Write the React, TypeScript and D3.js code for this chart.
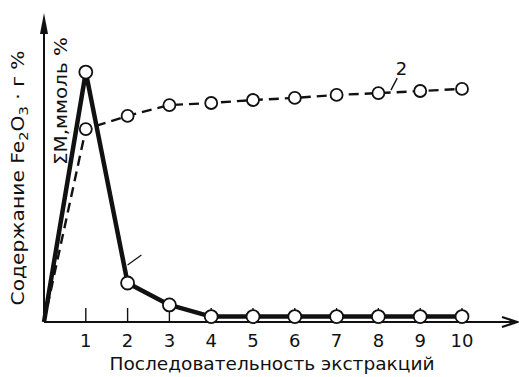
import React from "react";
import * as d3 from "d3";

const extractions = [0, 1, 2, 3, 4, 5, 6, 7, 8, 9, 10];
const fe2o3 = [0, 83.3, 13, 5.7, 1.8, 1.8, 1.8, 1.8, 1.8, 1.8, 1.8];
const sumM = [0, 64.3, 68.7, 72.3, 73, 74, 74.7, 75.7, 76.3, 77, 77.7];
const tickLabels = ["1", "2", "3", "4", "5", "6", "7", "8", "9", "10"];
const xTitle = "Последовательность экстракций";
const yTitle = "Содержание";
const yTitle2 = "ΣМ,ммоль %";

const W = 519;
const H = 377;

export default function App() {
  const x = d3.scaleLinear().domain([0, 10]).range([44, 462]);
  const y = d3.scaleLinear().domain([0, 100]).range([322, 22]);
  const line = d3
    .line<number>()
    .x((_, i) => x(extractions[i]))
    .y((d) => y(d));
  const x0 = x(0);
  const y0 = y(0);
  const font = "DejaVu Sans, sans-serif";
  const ink = "#111";
  return (
    <svg
      width={W}
      height={H}
      style={{ position: "absolute", left: 0, top: 0, background: "#fff" }}
      fontFamily={font}
    >
      <rect x={0} y={0} width={W} height={H} fill="#fff" />
      {/* axes */}
      <line x1={x0} y1={y0} x2={x0} y2={y(100) - 4} stroke={ink} strokeWidth={2} />
      <path
        d={`M${x0},${y(100) - 9} L${x0 - 4},${y(100) + 12} L${x0 + 4},${y(100) + 12} Z`}
        fill={ink}
      />
      <line x1={x0} y1={y0} x2={516} y2={y0} stroke={ink} strokeWidth={2} />
      <path
        d={`M${502},${y0 - 5} L${517},${y0} L${502},${y0 + 5}`}
        fill="none"
        stroke={ink}
        strokeWidth={2.2}
      />
      {/* ticks */}
      {tickLabels.map((t, i) => (
        <g key={t}>
          <line
            x1={x(i + 1)}
            x2={x(i + 1)}
            y1={y0}
            y2={y0 - 14}
            stroke={ink}
            strokeWidth={1.4}
          />
          <text
            x={x(i + 1)}
            y={y0 + 25}
            fontSize={18}
            textAnchor="middle"
            fill={ink}
          >
            {t}
          </text>
        </g>
      ))}
      {/* series lines */}
      <path
        d={line(sumM) || ""}
        fill="none"
        stroke={ink}
        strokeWidth={2.4}
        strokeDasharray="10 6"
      />
      <path
        d={line(fe2o3) || ""}
        fill="none"
        stroke={ink}
        strokeWidth={4.5}
        strokeLinejoin="round"
      />
      {sumM.slice(1).map((v, i) => (
        <circle
          key={"m" + i}
          cx={x(extractions[i + 1])}
          cy={y(v)}
          r={6}
          fill="#fff"
          stroke={ink}
          strokeWidth={1.8}
        />
      ))}
      {fe2o3.slice(1).map((v, i) => (
        <circle
          key={"f" + i}
          cx={x(extractions[i + 1])}
          cy={y(v)}
          r={6.5}
          fill="#fff"
          stroke={ink}
          strokeWidth={1.8}
        />
      ))}
      {/* annotations */}
      <line x1={x(2.0)} y1={y(19)} x2={x(2.33)} y2={y(22.3)} stroke={ink} strokeWidth={1.2} />
      <line x1={x(8.3)} y1={y(77.3)} x2={x(8.45)} y2={y(81.3)} stroke={ink} strokeWidth={1.4} />
      <text x={x(8.55)} y={y(82.5)} fontSize={18} textAnchor="middle" fill={ink}>
        2
      </text>
      {/* axis titles */}
      <text
        x={272}
        y={370}
        fontSize={18}
        textAnchor="middle"
        textLength={325}
        lengthAdjust="spacingAndGlyphs"
        fill={ink}
      >
        {xTitle}
      </text>
      <text
        transform="translate(24,178) rotate(-90)"
        fontSize={18}
        textAnchor="middle"
        textLength={255}
        lengthAdjust="spacingAndGlyphs"
        fill={ink}
      >
        {yTitle}{" Fe"}
        <tspan fontSize={13} dy={4}>2</tspan>
        <tspan dy={-4}>O</tspan>
        <tspan fontSize={13} dy={4}>3</tspan>
        <tspan dy={-4}>{" · г %"}</tspan>
      </text>
      <text
        transform="translate(67,101) rotate(-90)"
        fontSize={17}
        textAnchor="middle"
        textLength={128}
        lengthAdjust="spacingAndGlyphs"
        fill={ink}
      >
        {yTitle2}
      </text>
    </svg>
  );
}
